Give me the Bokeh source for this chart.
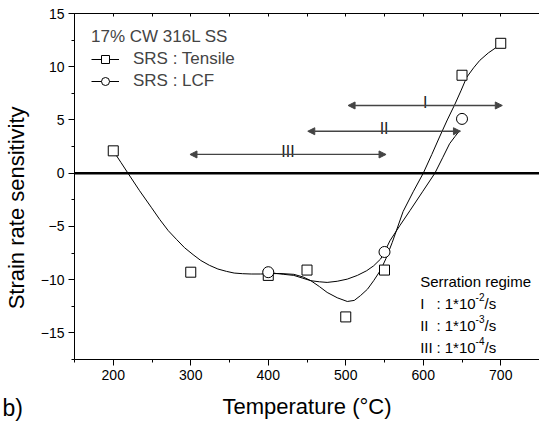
from bokeh.plotting import figure
from bokeh.models import (Range1d, LinearAxis, SingleIntervalTicker, FixedTicker, Span, Arrow,
                          NormalHead, Label, Legend, LegendItem, ColumnDataSource, Title)
from bokeh.core.properties import value
from bokeh.embed import file_html
from bokeh.resources import INLINE

FONT = "Liberation Sans"

# measured points
tensile_temp = [200, 300, 400, 450, 500, 550, 650, 700]
tensile_srs = [2.1, -9.3, -9.6, -9.1, -13.5, -9.1, 9.2, 12.2]
lcf_temp = [400, 550, 650]
lcf_srs = [-9.3, -7.4, 5.1]

# smoothed curves
tensile_fit_temp = [200, 210, 219, 234, 249, 260, 271, 282, 292, 303, 313, 324, 335, 346, 356, 367,
                    378, 390, 400, 415, 433, 445, 455, 466, 476, 489, 502, 511, 519, 528, 536, 545,
                    552, 560, 574, 587, 600, 611, 621, 631, 641, 649, 656, 665, 673, 684, 694, 700]
tensile_fit_srs = [2.1, 1.0, 0.0, -1.65, -3.2, -4.35, -5.4, -6.25, -7.0, -7.65, -8.2, -8.65, -9.0, -9.22, -9.38, -9.44,
                   -9.47, -9.47, -9.45, -9.42, -9.5, -9.75, -10.1, -10.65, -11.2, -11.7, -12.05, -11.95, -11.5, -10.9, -10.1, -9.1,
                   -8.0, -6.5, -3.6, -1.75, 0.0, 1.75, 3.4, 5.0, 6.5, 7.8, 9.0, 9.9, 10.6, 11.3, 11.8, 12.2]
lcf_fit_temp = [400, 410, 420, 433, 444, 455, 466, 476, 489, 502, 515, 527, 536, 545, 550, 557,
                570, 583, 599, 615, 625, 634, 641, 647]
lcf_fit_srs = [-9.3, -9.42, -9.5, -9.6, -9.85, -10.1, -10.2, -10.26, -10.15, -9.95, -9.6, -9.16, -8.7, -8.06, -7.4, -6.35,
               -4.9, -3.5, -1.75, 0.0, 1.45, 2.77, 3.45, 4.0]

# serration regimes
regime_labels = ["I", "II", "III"]
regime_start = [503, 451, 299]
regime_end = [702, 648, 552]
regime_level = [6.36, 3.94, 1.76]
regime_exponents = ["-2", "-3", "-4"]

p = figure(width=539, height=424, x_range=Range1d(150, 750), y_range=Range1d(-17.5, 15),
           output_backend="svg", toolbar_location=None,
           min_border_left=72, min_border_right=0, min_border_top=13, min_border_bottom=65,
           outline_line_color=None, background_fill_color="white", border_fill_color="white")
p.grid.visible = False

for ax in (p.xaxis[0], p.yaxis[0]):
    ax.axis_line_width = 1
    ax.major_tick_out = 6
    ax.major_tick_in = 0
    ax.minor_tick_out = 3
    ax.minor_tick_in = 0
    ax.major_label_text_font = FONT
    ax.major_label_text_font_size = "14px"
    ax.major_label_text_color = "black"
    ax.axis_label_text_font = FONT
    ax.axis_label_text_font_size = "22px"
    ax.axis_label_text_font_style = "normal"
    ax.axis_label_text_color = "black"
    ax.major_label_standoff = 4

p.xaxis[0].ticker = SingleIntervalTicker(interval=100, num_minor_ticks=2)
p.yaxis[0].ticker = SingleIntervalTicker(interval=5, num_minor_ticks=2)
p.xaxis[0].axis_label = "Temperature (°C)"
p.yaxis[0].axis_label = "Strain rate sensitivity" + "\u00a0" * 7
p.xaxis[0].axis_label_standoff = 11
p.yaxis[0].axis_label_standoff = 9

top = LinearAxis(ticker=FixedTicker(ticks=[], minor_ticks=[150 + 50 * i for i in range(13)]),
                 major_tick_in=0, major_tick_out=0, minor_tick_in=3, minor_tick_out=0,
                 axis_line_width=1)
p.add_layout(top, "above")

p.add_layout(Span(location=0, dimension="width", line_color="black", line_width=2.5))

t_line = p.line(tensile_fit_temp, tensile_fit_srs, line_color="black", line_width=1)
l_line = p.line(lcf_fit_temp, lcf_fit_srs, line_color="black", line_width=1)
t_sq = p.scatter(tensile_temp, tensile_srs, marker="square", size=10, fill_color="white",
                 line_color="black", line_width=1)
l_ci = p.scatter(lcf_temp, lcf_srs, marker="circle", size=11, fill_color="white",
                 line_color="black", line_width=1)

arrow_src = ColumnDataSource(dict(x0=regime_start, x1=regime_end, y=regime_level))
p.add_layout(Arrow(source=arrow_src, x_start="x0", y_start="y", x_end="x1", y_end="y",
                   line_color="#444444", line_width=1.3,
                   start=NormalHead(size=7, fill_color="#444444", line_color="#444444"),
                   end=NormalHead(size=7, fill_color="#444444", line_color="#444444")))

mid = [(a + b) / 2 for a, b in zip(regime_start, regime_end)]
lab_y = [v + 0.28 for v in regime_level]
p.text(mid, lab_y, text=regime_labels, text_font=value(FONT), text_font_size="16px",
       text_align="center", text_baseline="alphabetic", text_color="#222222")

legend = Legend(items=[LegendItem(label="SRS : Tensile", renderers=[t_line, t_sq]),
                       LegendItem(label="SRS : LCF", renderers=[l_line, l_ci])],
                title="17% CW 316L SS", location=(17, 268),
                background_fill_alpha=0, border_line_color=None,
                padding=0, margin=0, spacing=2, glyph_width=28, glyph_height=20,
                label_height=20, label_standoff=14, title_standoff=2,
                label_text_font=FONT, label_text_font_size="17px",
                title_text_font=FONT, title_text_font_size="17px", title_text_font_style="normal")
p.add_layout(legend)

# serration regime block
def lab(x, y, text, size="15px"):
    p.add_layout(Label(x=x, y=y, text=text, text_font=FONT, text_font_size=size,
                       text_baseline="alphabetic", text_color="black"))

lab(596, -10.17, "Serration regime")
rows_y = [-12.25, -14.3, -16.38]
for name, ex, yy in zip(regime_labels, regime_exponents, rows_y):
    lab(596, yy, name)
    lab(617, yy, ": 1*10")
    lab(667.5, yy + 0.6, ex, size="10px")
    lab(679, yy, "/s")

# panel tag below the plot, pulled up beside the axis title
p.add_layout(Title(text="b)", align="left", vertical_align="top", offset=-72, standoff=-54,
                   text_font=FONT, text_font_size="23px", text_font_style="normal",
                   text_color="black"), "below")

open("out.html", "w").write(file_html(p, INLINE))
